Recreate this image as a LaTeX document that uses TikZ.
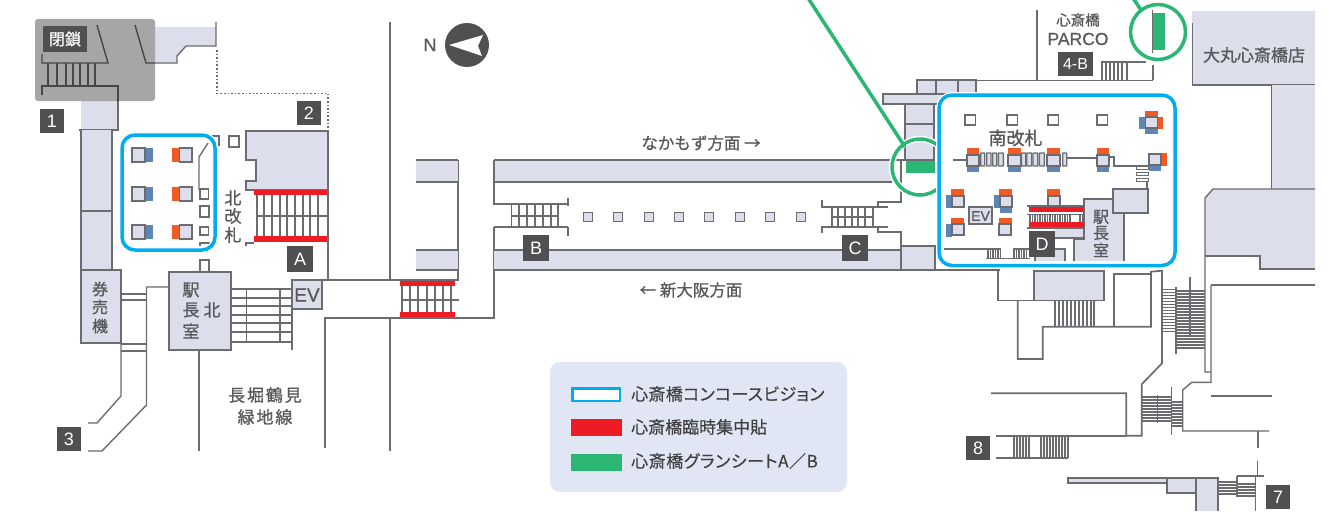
\documentclass[tikz,border=0pt]{standalone}
\usepackage{fontspec}
\setmainfont{Noto Sans CJK JP}
\newfontfamily\medf[FakeBold=0.9]{Noto Sans CJK JP}
\newfontfamily\legf[RawFeature=+palt,FakeBold=0.3]{Noto Sans CJK JP}
\newfontfamily\latf{Liberation Sans}
\newfontfamily\latm[FakeBold=0.6]{Liberation Sans}
\newcommand\fs[1]{\medf\fontsize{#1}{#1}\selectfont}
\newcommand\ls[1]{\latm\fontsize{#1}{#1}\selectfont}
\definecolor{lav}{HTML}{DCDFEB}
\definecolor{wall}{HTML}{6B6C70}
\definecolor{txt}{HTML}{58595B}
\definecolor{dark}{HTML}{505052}
\definecolor{cyanb}{HTML}{00AEEF}
\definecolor{redb}{HTML}{ED1C24}
\definecolor{greenb}{HTML}{2BB673}
\definecolor{orangeb}{HTML}{F15A22}
\definecolor{blueb}{HTML}{5F86B3}
\definecolor{legendbg}{HTML}{E0E6F3}
\tikzset{
 wl/.style={draw=wall,line width=1.4pt},
 room/.style={fill=lav,draw=wall,line width=1.4pt},
 post/.style={fill=white,draw=wall,line width=1.4pt},
 fine/.style={draw=wall,line width=1.1pt},
 lab/.style={text=txt,inner sep=0pt,font=\fs{16}},
 badgebox/.style={fill=dark,text=white,inner sep=0pt,minimum width=24pt,minimum height=24pt,font=\latf\fontsize{18}{18}\selectfont},
 org/.style={fill=orangeb,draw=none},
 blu/.style={fill=blueb,draw=none},
 redbar/.style={fill=redb,draw=none},
 greenbar/.style={fill=greenb,draw=none},
 frameb/.style={draw=cyanb,line width=3.5pt,rounded corners=13pt,preaction={draw=white,line width=6pt}},
 ringg/.style={draw=greenb,line width=3.5pt,preaction={draw=white,line width=6.5pt}},
 leglab/.style={anchor=west,inner sep=0pt,text=black!75,font=\legf\fontsize{17}{17}\selectfont},
}
\begin{document}
\begin{tikzpicture}[x=1pt,y=-1pt]
\useasboundingbox (0,0) rectangle (1329,511);
% ---------- north-west block
\fill[lav] (155,27) -- (216,27) -- (216,46) -- (186,46) -- (177,56) -- (177,63) -- (155,63) -- cycle;
\draw[wl] (135,25) -- (146,63) -- (177,63) -- (177,56) -- (186,46) -- (216,46) -- (216,22);
\draw[wl] (97,25) -- (108,63) -- (42,63) -- (42,54);
\foreach \x in {48,57,66,73,80,88,95} \draw[wl] (\x,63) -- (\x,86);
\fill[lav] (81,101) rectangle (118,130);
\draw[wl] (42,95) -- (42,86) -- (118,86) -- (118,130) -- (79,130);
\fill[lav] (81,130) rectangle (112,270);
\draw[wl] (81,130) -- (81,270) (112,130) -- (112,270) (81,211) -- (112,211);
\draw[wall,line width=1.6pt,dotted] (217,50) -- (217,93.5) -- (328,93.5) -- (328,129);
\fill[black,fill opacity=.35,rounded corners=3pt] (35,19) rectangle (155,101);
% ---------- north gate area
\draw[room] (246,131) -- (328,131) -- (328,190) -- (246,190) -- (246,181) -- (256,181) -- (256,160) -- (246,160) -- cycle;
\foreach \x in {257,264,272,280,287,295,303,310,318} \draw[wl] (\x,190) -- (\x,241);
\draw[wl] (257,216) -- (328,216);
\draw[wl] (328,190) -- (328,280);
\draw[wl] (246,246) -- (246,243) -- (254,243);
\fill[redbar] (254,190) rectangle (327,195);
\fill[redbar] (254,236) rectangle (327,241.5);
\draw[post] (229,136) rectangle (239,147);
\draw[post] (200,260) rectangle (209,272);
\draw[wl] (212,136) -- (219,136) -- (219,146);
\draw[wl] (208,143) -- (199,157) -- (199,190);
\draw[post] (200,189) rectangle (208.5,199);
\draw[post] (200,206) rectangle (209,217);
\draw[post] (200,227) rectangle (208.5,235);
\draw[post] (200,246) -- (200,243) -- (209,243) -- (209,246);
\foreach \y in {148,187,225} {
  \fill[blu] (145,\y) rectangle (152.5,\y+14);
  \draw[room] (132,\y) rectangle (145,\y+14);
  \fill[org] (172,\y) rectangle (179.5,\y+14);
  \draw[room] (179.5,\y) rectangle (192,\y+14);
}
\draw[frameb] (122,135) rectangle (215,250);
% ---------- ticket and north office
\draw[room] (81,270) rectangle (121,343);
\draw[room] (169,272) rectangle (231,350);
\draw[wl] (199,350) -- (199,451);
\draw[wl] (169,287) -- (146.5,287) -- (146.5,405) -- (102,451) -- (88,451);
\draw[wl] (121,343) -- (121,396) -- (97,423) -- (88,423);
\draw[wl] (121,294) -- (146,294) (121,300) -- (146,300) (121,344) -- (146,344) (121,351) -- (146,351);
\foreach \y in {289,298,306,315,323,332,342} \draw[wl] (231,\y) -- (292,\y);
\draw[wl] (246.5,289) -- (246.5,342) (280,289) -- (280,342) (292,280) -- (292,350);
\draw[room] (292,280) rectangle (322,309);
\draw[wl] (322,280) -- (458,280);
% ---------- main walls
\draw[wl] (390,22) -- (390,280) (390,318) -- (390,451);
\draw[wl] (325,448) -- (325,318) -- (494,318) -- (494,227);
\draw[wl] (458,160) -- (458,281);
\foreach \x in {402,410,418,427,435,443,451} \draw[wl] (\x,282) -- (\x,318);
\draw[wl] (402,300) -- (459,300);
\fill[redbar] (400,281) rectangle (455,286);
\fill[redbar] (400,312) rectangle (455,317);
% ---------- platform bands
\fill[lav] (416,160) rectangle (458,182);
\fill[lav] (494,160) rectangle (892,182);
\fill[lav] (416,250) rectangle (458,270);
\fill[lav] (494,250) rectangle (935,270);
\draw[wall,line width=1.7pt] (416,160) -- (458,160) (494,160) -- (935,160);
\draw[wl] (416,182) -- (458,182) (494,182) -- (892,182);
\draw[wl] (416,250) -- (458,250) (494,250) -- (901,250);
\draw[wall,line width=1.7pt] (416,270) -- (458,270) (494,270) -- (1000,270);
\draw[wl] (494,160) -- (494,204) -- (568,204);
\draw[wl] (494,227) -- (568,227);
\draw[wl] (568,198) -- (568,206) (568,227) -- (568,236);
\foreach \x in {511.7,519,527,535,543,551,558} \draw[wl] (\x,204) -- (\x,227);
\draw[wl] (511,216) -- (558,216);
\foreach \x in {588,618,649,679,709,740,770,801} \draw[room] (\x-4.5,212.5) rectangle (\x+4.5,221.5);
\draw[wl] (822,200) -- (822,207) -- (888,207) (878,207) -- (878,202) -- (901,202) -- (901,161);
\draw[wl] (822,233) -- (822,227) -- (888,227) (878,227) -- (878,232) -- (901,232) -- (901,270);
\foreach \x in {832,838,845,852,858,865,873} \draw[wl] (\x,207) -- (\x,227);
\draw[wl] (832,217) -- (873,217);
\draw[room] (901,246) rectangle (935,270);
% ---------- top centre structure
\draw[room] (917,80) rectangle (936,94);
\draw[room] (936,80) rectangle (958,94);
\draw[room] (958,80) rectangle (976,94);
\draw[wl] (976,80.5) -- (1153,80.5);
\draw[room] (905,104) rectangle (934,160);
\draw[wl] (905,124) -- (934,124);
\draw[room] (883,94) rectangle (999,104);
\fill[greenbar] (906,161) rectangle (935,173);
\draw[wall,line width=1.7pt] (892,160) -- (934,160);
\draw[ringg] (920,167) circle[radius=28pt];
\coordinate (lineA) at (808,-2);
\coordinate (ringA) at (905,147);
\draw[greenb,line width=3.5pt] (lineA) -- (ringA);
% ---------- south frame
\draw[frameb,fill=white] (939,95) rectangle (1175,265.5);
\foreach \x in {965,1007,1048,1097} \draw[post] (\x,115) rectangle (\x+10.5,125);
\fill[org] (1145,111) rectangle (1158,117);
\fill[org] (1158,117) rectangle (1163,129);
\fill[blu] (1139,117) rectangle (1145,129);
\fill[blu] (1145,128) rectangle (1158,134);
\draw[room] (1145.5,117) rectangle (1157.5,128);
\draw[wl] (953,160) -- (967,160) (1066,158) -- (1097,158);
\draw[wl] (1109,157) -- (1114,157) -- (1114,166) -- (1149,166);
\foreach \a/\b in {967/979,1008/1021,1047/1060,1097/1109} {
  \fill[org] (\a-.5,148) rectangle (\b,155);
  \fill[blu] (\a,166) rectangle (\b,172);
  \draw[room] (\a,155) rectangle (\b,166);
}
\fill[org] (1161,153) rectangle (1167,166);
\fill[blu] (1149,165) rectangle (1161,171);
\draw[room] (1149,154) rectangle (1161,165);
\foreach \a/\b in {980.7/984.7,986.7/991,992.7/996.7,998.3/1003.3,1021.5/1025.7,1026.7/1031.7,1033/1037.7,1039.3/1044.3,1062.7/1066.7}
  \draw[room,rounded corners=.5pt] (\a,153) rectangle (\b,166);
\foreach \y in {166,172,178} \draw[post,line width=1pt] (1136,\y) rectangle (1148,\y+3);
\draw[wl] (1147,181) -- (1147,190);
% lower gates
\foreach \a/\b in {952/964,1000/1012,1048/1060} {
  \fill[org] (\a-1,189) rectangle (\b,196);
}
\fill[blu] (946,195) rectangle (952,208);
\fill[blu] (994,195) rectangle (1000,208);
\fill[blu] (1000,207) rectangle (1012,213);
\draw[room] (952,196) rectangle (964,207);
\draw[room] (1000,196) rectangle (1012,207);
\draw[room] (1048,196) rectangle (1060,206);
\draw[room] (969,207) rectangle (992,224);
\fill[org] (951,218) rectangle (964,224);
\fill[blu] (946,224) rectangle (952,237);
\draw[room] (952,224) rectangle (964,235);
\fill[org] (999,218) rectangle (1012,224);
\draw[room] (999,224) rectangle (1011,235);
% south office
\fill[lav] (1055,227) rectangle (1084,238);
\draw[wl] (1055,238) -- (1084,238);
\draw[room] (1124,261) -- (1124,199) -- (1084,199) -- (1084,239) -- (1074,239) -- (1074,261);
\draw[room] (1113,189) rectangle (1148,213);
\draw[wl] (1027,206) -- (1084,206) (1027,228) -- (1084,228);
\foreach \x in {1030,1032.5,...,1070} \draw[fine] (\x,215) -- (\x,222);
\foreach \x in {1080,1082.5} \draw[fine] (\x,215) -- (\x,222);
\draw[wl] (1027,214.5) -- (1084,214.5);
\fill[redbar] (1029,207) rectangle (1084,212);
\fill[redbar] (1029,222) rectangle (1084,227);
\fill[lav] (1035,249) rectangle (1065,261);
\draw[wl] (1035,261) -- (1035,249) -- (1065,249) -- (1065,261);
\draw[wl] (944,249) -- (1001,249) (1013,249) -- (1029,249) (986,258.7) -- (1030,258.7);
\foreach \x in {988,990.5,...,1001} \draw[fine] (\x,249) -- (\x,258);
\foreach \x in {1014,1016.5,...,1027} \draw[fine] (\x,249) -- (\x,258);
% ---------- Parco
\draw[wl] (1037,10) -- (1037,80);
\draw[wl] (1153,65) -- (1153,80);
\draw[wl] (1101,62) -- (1146,62);
\foreach \x in {1102,1106,1110,1114,1118,1122,1127} \draw[fine] (\x,62) -- (\x,80);
\fill[greenbar] (1153,13) rectangle (1165,50.5);
\draw[wl] (1152.3,10) -- (1152.3,53);
\draw[ringg] (1158,32) circle[radius=27.5pt];
\coordinate (lineB) at (1133,-2);
\coordinate (ringB) at (1141,10);
\draw[greenb,line width=3.5pt] (lineB) -- (ringB);
% ---------- Daimaru
\fill[lav] (1192,11) rectangle (1315,85);
\draw[wl] (1192.7,23) -- (1192.7,85) -- (1315,85);
\fill[lav] (1271.5,85) rectangle (1315,189);
\draw[wl] (1271.5,85) -- (1271.5,189);
\fill[lav] (1213,189) -- (1315,189) -- (1315,269) -- (1260,269) -- (1260,256) -- (1205,256) -- (1205,198) -- cycle;
\draw[wl] (1315,189) -- (1213,189) -- (1205,198) -- (1205,372) -- (1211,372);
\draw[wl] (1205,256) -- (1260,256) -- (1260,269) -- (1315,269);
\draw[wl] (1211,285) -- (1315,285);
\draw[wl] (1211,285) -- (1211,382.3) -- (1191.7,382.3) -- (1182.7,390) -- (1182.7,431) -- (1269,431);
\draw[wl] (1211,396) -- (1271.7,396) (1258,431) -- (1258,448) (1257.7,460.7) -- (1257.7,476) (1237,476) -- (1264,476);
% ---------- south-east walls
\draw[wl] (950,270.7) -- (998,270.7) -- (998,300.7) -- (1104,300.7);
\draw[room] (1034,271) rectangle (1104,300.7);
\draw[wall,line width=1.7pt] (1017.7,300.7) -- (1017.7,359) -- (1042.7,359) -- (1042.7,326.7) -- (1151,326.7) -- (1151,271.7) -- (1162,270.7) -- (1162,363.3) -- (1141.7,384.3) -- (1141.7,435.7) -- (1126.3,435.7) -- (1126.3,393.3) -- (991,393.3);
\draw[wl] (1114,326) -- (1114,274) -- (1151,274);
\foreach \x in {1055,1059,1063,1067,1071,1075,1079,1083,1087,1091,1094} \draw[wl] (\x,301) -- (\x,326);
\foreach \y in {289.5,292.5,...,333} \draw[fine] (1162,\y) -- (1176,\y);
\foreach \y in {291,294,...,348} \draw[fine] (1176,\y) -- (1205,\y);
\draw[wl] (1176,287) -- (1176,354) (1190,277) -- (1190,337);
\foreach \y in {397,400,...,422} \draw[fine] (1141.7,\y) -- (1171.7,\y);
\foreach \y in {402,405,...,427} \draw[fine] (1171.7,\y) -- (1182.7,\y);
\draw[wl] (1157.7,395) -- (1157.7,423) (1171.7,386.7) -- (1171.7,435);
% exit 8
\draw[wl] (996,436) -- (1126,436) (996,458) -- (1068,458);
\foreach \x in {1014,1017,...,1031} \draw[fine] (\x,436) -- (\x,458);
\foreach \x in {1041,1044,...,1068} \draw[fine] (\x,436) -- (\x,458);
% exit 7
\draw[room] (1068,478) rectangle (1167,483);
\draw[room] (1167,478) rectangle (1196,493);
\fill[lav] (1197,479) rectangle (1217,511);
\draw[wl] (1196,511) -- (1196,478) -- (1218,478) -- (1218,511);
\foreach \y in {482,485,...,496} \draw[fine] (1218,\y) -- (1237,\y);
\foreach \y in {484,487,...,497} \draw[fine] (1237,\y) -- (1255.7,\y);
\draw[wl] (1237,476) -- (1237,497) (1255.7,476) -- (1255.7,511);
% ---------- compass
\fill[dark] (467,45) circle[radius=22pt];
\fill[white] (449,45) -- (483,35) -- (478,46) -- (482,56) -- cycle;
% ---------- badges
\node[badgebox] (b1) at (52,121) {1};
\node[badgebox] (b2) at (309,113) {2};
\node[badgebox] (b3) at (69,439) {3};
\node[badgebox,minimum width=26pt,minimum height=26pt] (bA) at (300,259) {A};
\node[badgebox,minimum width=26pt,minimum height=26pt] (bB) at (536,248) {B};
\node[badgebox,minimum width=26pt,minimum height=26pt] (bC) at (855,248) {C};
\node[badgebox,minimum width=26pt,minimum height=26pt] (bD) at (1042,244) {D};
\node[badgebox,minimum width=35pt,font=\latf\fontsize{16}{16}\selectfont] (b4) at (1075.5,64) {4-B};
\node[badgebox] (b8) at (978,448) {8};
\node[badgebox] (b7) at (1278,497) {7};
\node[badgebox,minimum width=44pt,minimum height=26pt,font=\fs{16}] (closed) at (65,39) {閉鎖};
% ---------- labels
\node[lab,font=\fs{17}] (n1) at (233,198) {北};
\node[lab,font=\fs{17}] (n2) at (233,216) {改};
\node[lab,font=\fs{17}] (n3) at (233,235) {札};
\node[lab] (t1) at (100,289) {券};
\node[lab] (t2) at (100,307) {売};
\node[lab] (t3) at (100,326) {機};
\node[lab,font=\fs{17}] (o1) at (191,290) {駅};
\node[lab,font=\fs{17}] (o2) at (191,310) {長};
\node[lab,font=\fs{17}] (o3) at (191,331) {室};
\node[lab,font=\fs{17}] (o4) at (212,310) {北};
\node[lab,font=\ls{19}] (ev1) at (307,295) {EV};
\node[lab,font=\fs{17}\addfontfeature{LetterSpace=11}] (nag1) at (265,395) {長堀鶴見};
\node[lab,font=\fs{17}\addfontfeature{LetterSpace=11}] (nag2) at (265,417) {緑地線};
\node[lab,font=\ls{18}] (north) at (430,45) {N};
\node[lab,font=\fs{16.5}] (dirn) at (701,143) {なかもず方面 →};
\node[lab,font=\fs{16.5}] (dirs) at (691,290) {← 新大阪方面};
\node[lab,font=\fs{18}] (minami) at (1015.5,138) {南改札};
\node[lab,font=\ls{14}] (ev2) at (980.5,216) {EV};
\node[lab] (s1) at (1101,217) {駅};
\node[lab] (s2) at (1101,233) {長};
\node[lab] (s3) at (1101,250) {室};
\node[lab,font=\fs{14.5}] (pa1) at (1078,20) {心斎橋};
\node[lab,font=\ls{17.5}] (pa2) at (1078,39) {PARCO};
\node[lab,font=\fs{17}] (dm) at (1254,55) {大丸心斎橋店};
% ---------- legend
\fill[legendbg,rounded corners=10pt] (550,362) rectangle (847,492);
\draw[draw=cyanb,fill=white,line width=2.5pt] (572.5,388.5) rectangle (620,401);
\fill[redbar] (571,419) rectangle (621.5,436);
\fill[greenbar] (571,454) rectangle (621.5,471);
\node[leglab,font=\legf\fontsize{17}{17}\selectfont\addfontfeature{LetterSpace=2}] (l1) at (631,394) {心斎橋コンコースビジョン};
\node[leglab] (l2) at (631,427) {心斎橋臨時集中貼};
\node[leglab,font=\legf\fontsize{17}{17}\selectfont\addfontfeature{LetterSpace=3.4}] (l3) at (631,461) {心斎橋グランシートA／B};
\end{tikzpicture}
\end{document}
